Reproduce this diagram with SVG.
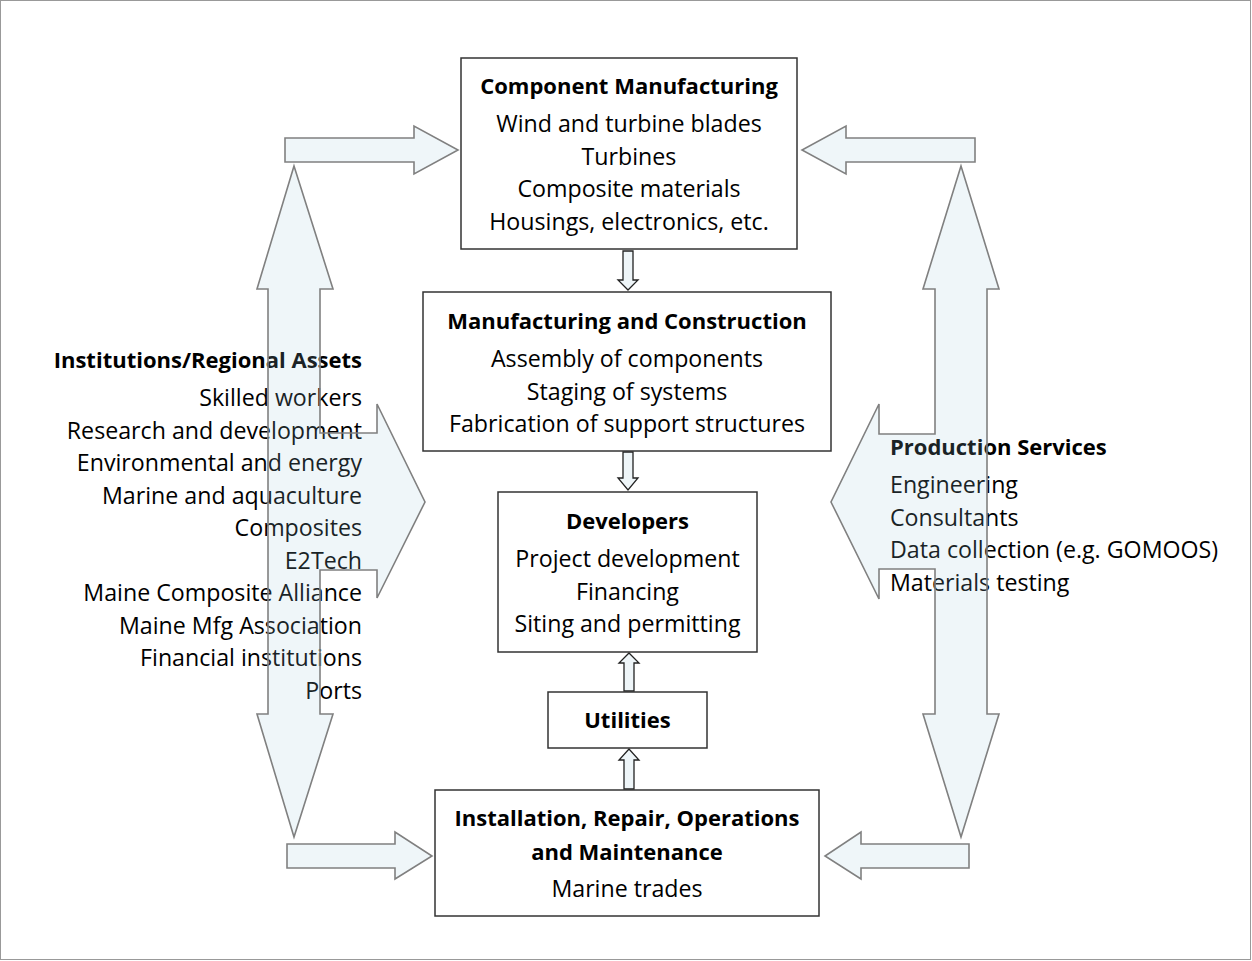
<svg xmlns="http://www.w3.org/2000/svg" width="1252" height="961" viewBox="0 0 1252 961">
<style>
.t{font-family:"Open Sans","Noto Sans","Liberation Sans",sans-serif;font-size:23.2px;fill:#000}
.b{font-family:"Open Sans","Noto Sans","Liberation Sans",sans-serif;font-size:22px;font-weight:bold;fill:#000}
.m{text-anchor:middle}
.r{text-anchor:end}
.box{fill:#fff;stroke:#333;stroke-width:1.5}
.big{fill:#9fc9db;fill-opacity:0.17;stroke:#808080;stroke-width:1.6;stroke-linejoin:miter}
.sm{fill:#eef5f8;stroke:#222;stroke-width:1.3}
</style>
<rect x="0.5" y="0.5" width="1250" height="959" fill="#fff" stroke="#999" stroke-width="1"/>

<g id="institutions">
<text class="b r" x="362" y="368">Institutions/Regional Assets</text>
<text class="t r" x="362" y="406">Skilled workers</text>
<text class="t r" x="362" y="438.5">Research and development</text>
<text class="t r" x="362" y="471">Environmental and energy</text>
<text class="t r" x="362" y="503.5">Marine and aquaculture</text>
<text class="t r" x="362" y="536">Composites</text>
<text class="t r" x="362" y="568.5">E2Tech</text>
<text class="t r" x="362" y="601">Maine Composite Alliance</text>
<text class="t r" x="362" y="633.5">Maine Mfg Association</text>
<text class="t r" x="362" y="666">Financial institutions</text>
<text class="t r" x="362" y="698.5">Ports</text>
</g>

<g id="production-services">
<text class="b" x="890" y="455">Production Services</text>
<text class="t" x="890" y="493">Engineering</text>
<text class="t" x="890" y="525.5">Consultants</text>
<text class="t" x="890" y="558">Data collection (e.g. GOMOOS)</text>
<text class="t" x="890" y="590.5">Materials testing</text>
</g>

<g id="connectors">
<polygon class="big" points="294,166 333,289 320,289 320,433 377,433 377,404 425,502 377,598 377,570 320,570 320,714 333,714 294,837 257,714 268,714 268,289 257,289"/>
<polygon class="big" points="961,166 999,289 987,289 987,714 999,714 961,837 923,714 935,714 935,569 879,569 879,599 831,502 879,404 879,434 935,434 935,289 923,289"/>
<polygon class="big" points="285,138 414,138 414,126 458,150 414,174 414,162 285,162"/>
<polygon class="big" points="975,138 846,138 846,126 802,150 846,174 846,162 975,162"/>
<polygon class="big" points="287,844 395,844 395,832 432,856 395,879 395,868 287,868"/>
<polygon class="big" points="969,844 861,844 861,832 825,856 861,879 861,868 969,868"/>
<polygon class="sm" points="623,251 633,251 633,280 638,280 628,290 618,280 623,280"/>
<polygon class="sm" points="623,452 633,452 633,478 638,478 628,490 618,478 623,478"/>
<polygon class="sm" points="624,691 634,691 634,663 639,663 629,653 619,663 624,663"/>
<polygon class="sm" points="624,789 634,789 634,760 639,760 629,749 619,760 624,760"/>
</g>

<g id="component-manufacturing">
<rect class="box" x="461" y="58" width="336" height="191"/>
<text class="b m" x="629" y="94">Component Manufacturing</text>
<text class="t m" x="629" y="132">Wind and turbine blades</text>
<text class="t m" x="629" y="164.5">Turbines</text>
<text class="t m" x="629" y="197">Composite materials</text>
<text class="t m" x="629" y="229.5">Housings, electronics, etc.</text>
</g>

<g id="manufacturing-construction">
<rect class="box" x="423" y="292" width="408" height="159"/>
<text class="b m" x="627" y="329">Manufacturing and Construction</text>
<text class="t m" x="627" y="367">Assembly of components</text>
<text class="t m" x="627" y="399.5">Staging of systems</text>
<text class="t m" x="627" y="432">Fabrication of support structures</text>
</g>

<g id="developers">
<rect class="box" x="498" y="492" width="259" height="160"/>
<text class="b m" x="627.5" y="529">Developers</text>
<text class="t m" x="627.5" y="567">Project development</text>
<text class="t m" x="627.5" y="599.5">Financing</text>
<text class="t m" x="627.5" y="632">Siting and permitting</text>
</g>

<g id="utilities">
<rect class="box" x="548" y="692" width="159" height="56"/>
<text class="b m" x="627.5" y="728">Utilities</text>
</g>

<g id="installation">
<rect class="box" x="435" y="790" width="384" height="126"/>
<text class="b m" x="627" y="826">Installation, Repair, Operations</text>
<text class="b m" x="627" y="860">and Maintenance</text>
<text class="t m" x="627" y="897">Marine trades</text>
</g>
</svg>
